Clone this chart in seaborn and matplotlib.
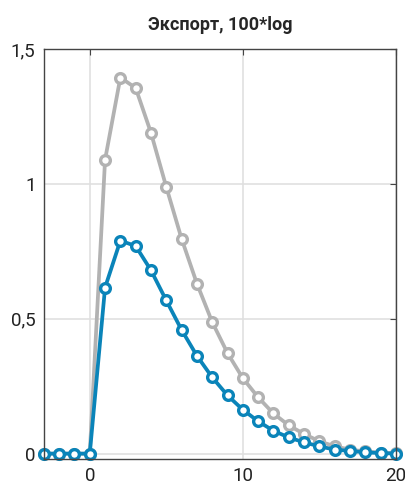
import matplotlib
matplotlib.use("Agg")
import matplotlib.pyplot as plt
import pandas as pd
import seaborn as sns

# horizon (quarters) and responses
horizon = list(range(-3, 21))
gray_vals = [0, 0, 0, 0, 1.09, 1.395, 1.356, 1.19, 0.989, 0.797, 0.631, 0.488,
             0.373, 0.280, 0.209, 0.149, 0.105, 0.073, 0.046, 0.027, 0.015,
             0.008, 0.004, 0.002]
blue_vals = [0, 0, 0, 0, 0.616, 0.79, 0.77, 0.68, 0.568, 0.459, 0.363, 0.283,
             0.216, 0.163, 0.12, 0.085, 0.06, 0.042, 0.027, 0.015, 0.01,
             0.005, 0.002, 0]
xticks = [0, 10, 20]
yticks = [0, 0.5, 1, 1.5]
ytick_labels = ["0", "0,5", "1", "1,5"]
title = "Экспорт, 100*log"

sns.set_style("white")
plt.rcParams["font.family"] = ["Roboto", "DejaVu Sans"]
plt.rcParams["font.size"] = 12

df = pd.DataFrame({"h": horizon, "gray": gray_vals, "blue": blue_vals})

fig = plt.figure(figsize=(4.06, 4.92), dpi=100)
ax = fig.add_axes([0.108, 0.067, 0.867, 0.833])

for col, color in [("gray", "#b2b2b2"), ("blue", "#0a84b9")]:
    sns.lineplot(data=df, x="h", y=col, ax=ax, color=color, linewidth=2.7,
                 marker="o", markersize=7, markerfacecolor="white",
                 markeredgecolor=color, markeredgewidth=2.4, clip_on=False)

ax.set_xlim(-3, 20)
ax.set_ylim(-0.02, 1.5)
ax.set_xticks(xticks)
ax.set_yticks(yticks)
ax.set_yticklabels(ytick_labels)
ax.set_xlabel("")
ax.set_ylabel("")
ax.grid(True, color="#e0e0e0", linewidth=1.2)
ax.set_axisbelow(True)
for s in ax.spines.values():
    s.set_color("#444444")
    s.set_linewidth(1.0)
    s.set_visible(True)
ax.tick_params(direction="in", length=4, color="#444444", top=True, right=True,
               labelsize=13.5, labelcolor="#222222", pad=6)
ax.set_title(title, fontsize=13, fontweight="bold", pad=14)

plt.savefig("out.png", dpi=100)
plt.close()
